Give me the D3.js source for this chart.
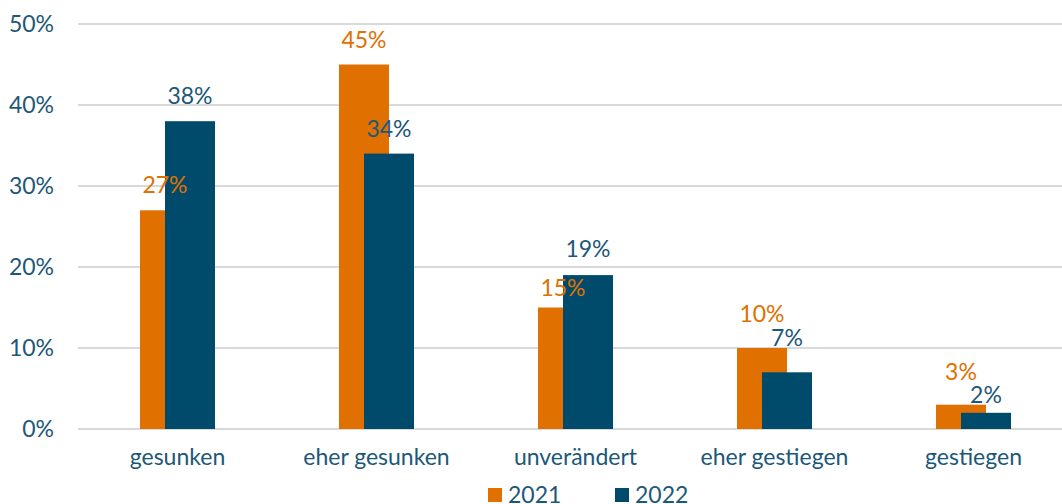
<!DOCTYPE html>
<html>
<head>
<meta charset="utf-8">
<script src="https://cdn.jsdelivr.net/npm/d3@7"></script>
<style>
  body { margin: 0; background: #fff; }
  svg text { font-family: Lato, "Open Sans", sans-serif; }
</style>
</head>
<body>
<div id="chart"></div>
<script>
const categories = ['gesunken', 'eher gesunken', 'unverändert', 'eher gestiegen', 'gestiegen'];
const values2021 = [27, 45, 15, 10, 3];
const values2022 = [38, 34, 19, 7, 2];
const seriesNames = ['2021', '2022'];
const yTicks = [0, 10, 20, 30, 40, 50];

const colors = ['#e07000', '#004b6b'];
const textColor = '#1d5878';
const fontSize = 23;

// gap between bar top and label (labels nudged where they would collide)
const labelGap = [[17, 17, 12, 26, 25], [17, 17, 18, 26, 10]];

const width = 1062, height = 504;
const margin = { top: 24, right: -11, bottom: 75, left: 78 };

const svg = d3.select('#chart').append('svg')
  .attr('width', width)
  .attr('height', height);

const x = d3.scaleBand()
  .domain(categories)
  .range([margin.left, width - margin.right]);

const y = d3.scaleLinear()
  .domain([0, 50])
  .range([height - margin.bottom, margin.top]);

const barW = 50;
const offset = 25;

// gridlines
svg.append('g')
  .selectAll('line')
  .data(yTicks)
  .enter()
  .append('line')
  .attr('x1', margin.left)
  .attr('x2', width)
  .attr('y1', (d) => y(d))
  .attr('y2', (d) => y(d))
  .attr('stroke', '#d9d9d9')
  .attr('stroke-width', 2);

// y labels
svg.append('g')
  .selectAll('text')
  .data(yTicks)
  .enter()
  .append('text')
  .attr('x', 54)
  .attr('y', (d) => y(d) + 8)
  .attr('text-anchor', 'end')
  .attr('fill', textColor)
  .attr('font-size', fontSize)
  .text((d) => d + '%');

const series = [values2021, values2022];
const centerX = (c, i) => x(c) + x.bandwidth() / 2 + (i === 0 ? -offset / 2 : offset / 2);

series.forEach((vals, i) => {
  svg.append('g')
    .selectAll('rect')
    .data(categories)
    .enter()
    .append('rect')
    .attr('x', (c) => centerX(c, i) - barW / 2)
    .attr('width', barW)
    .attr('y', (c, j) => y(vals[j]))
    .attr('height', (c, j) => y(0) - y(vals[j]))
    .attr('fill', colors[i]);
});

// value labels drawn after both series so they stay on top
series.forEach((vals, i) => {
  svg.append('g')
    .selectAll('text')
    .data(categories)
    .enter()
    .append('text')
    .attr('x', (c) => centerX(c, i))
    .attr('y', (c, j) => y(vals[j]) - labelGap[i][j])
    .attr('text-anchor', 'middle')
    .attr('fill', i === 0 ? colors[0] : textColor)
    .attr('font-size', fontSize)
    .text((c, j) => vals[j] + '%');
});

// category labels
svg.append('g')
  .selectAll('text')
  .data(categories)
  .enter()
  .append('text')
  .attr('x', (c) => x(c) + x.bandwidth() / 2)
  .attr('y', 465)
  .attr('text-anchor', 'middle')
  .attr('fill', textColor)
  .attr('font-size', fontSize)
  .text((c) => c);

// legend
const legend = svg.append('g');
const legendX = [488, 615];
seriesNames.forEach((name, i) => {
  legend.append('rect')
    .attr('x', legendX[i])
    .attr('y', 488)
    .attr('width', 14)
    .attr('height', 14)
    .attr('fill', colors[i]);
  legend.append('text')
    .attr('x', legendX[i] + 20)
    .attr('y', 503)
    .attr('fill', textColor)
    .attr('font-size', fontSize)
    .text(name);
});
</script>
</body>
</html>
